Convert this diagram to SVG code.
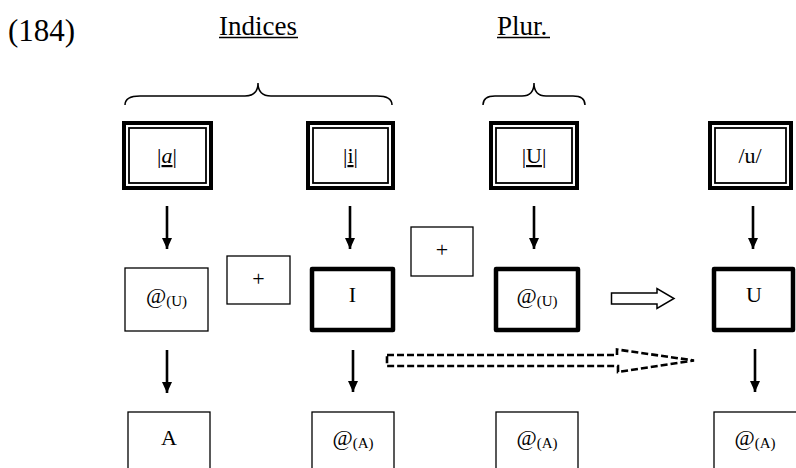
<svg xmlns="http://www.w3.org/2000/svg" width="796" height="468" viewBox="0 0 796 468">
<style>
text{font-family:"Liberation Serif","Times New Roman",serif;fill:#000}
.lbl{font-size:22px;text-anchor:middle}
.sub{font-size:15px}
.thin{fill:#fff;stroke:#000;stroke-width:1.3}
.thick{fill:#fff;stroke:#000;stroke-width:4.5;stroke-linejoin:round}
.dblo{fill:#fff;stroke:#000;stroke-width:4}
.dbli{fill:none;stroke:#000;stroke-width:1.8}
.shaft{stroke:#000;stroke-width:2.6;fill:none}
.brace{fill:none;stroke:#000;stroke-width:1.5}
</style>
<defs>
<marker id="ah" markerWidth="11" markerHeight="10" refX="11" refY="5" orient="auto" markerUnits="userSpaceOnUse" viewBox="0 0 11 10">
<path d="M0,0 L11,5 L0,10 Z" fill="#000"/>
</marker>
</defs>

<text x="8" y="41" style="font-size:31px">(184)</text>
<text x="219" y="35" style="font-size:27px">Indices</text>
<line x1="219" y1="37.5" x2="298" y2="37.5" stroke="#000" stroke-width="1.4"/>
<text x="497" y="35" style="font-size:27px">Plur.</text>
<line x1="497" y1="37.5" x2="550" y2="37.5" stroke="#000" stroke-width="1.4"/>

<path class="brace" d="M125,105 Q125,96 140,96 L245,96 Q258,96 258,83 Q258,96 271,96 L377,96 Q392,96 392,105"/>
<path class="brace" d="M483,105 Q483,96 495,96 L522,96 Q534,96 534,83 Q534,96 546,96 L573,96 Q585,96 585,105"/>

<g id="n-a">
<rect class="dblo" x="124" y="123" width="87" height="65"/>
<rect class="dbli" x="129" y="128" width="77" height="55"/>
<text class="lbl" x="167" y="163">|<tspan font-style="italic" text-decoration="underline">a</tspan>|</text>
</g>
<g id="n-i">
<rect class="dblo" x="308" y="123" width="85" height="65"/>
<rect class="dbli" x="313" y="128" width="75" height="55"/>
<text class="lbl" x="350.5" y="163">|<tspan text-decoration="underline">i</tspan>|</text>
</g>
<g id="n-U">
<rect class="dblo" x="491" y="123" width="86" height="65"/>
<rect class="dbli" x="496" y="128" width="76" height="55"/>
<text class="lbl" x="534" y="163">|<tspan text-decoration="underline">U</tspan>|</text>
</g>
<g id="n-u">
<rect class="dblo" x="710" y="123" width="81" height="65"/>
<rect class="dbli" x="715" y="128" width="71" height="55"/>
<text class="lbl" x="750" y="163">/u/</text>
</g>

<g id="n-atU1">
<rect class="thin" x="125" y="268" width="83" height="63"/>
<text class="lbl" x="166.5" y="303">@<tspan class="sub" dy="3">(U)</tspan></text>
</g>
<g id="n-plus1">
<rect class="thin" x="227" y="256" width="63" height="48"/>
<text class="lbl" x="258.5" y="286">+</text>
</g>
<g id="n-I">
<rect class="thick" x="312" y="269" width="81" height="61"/>
<text class="lbl" x="352.5" y="302">I</text>
</g>
<g id="n-plus2">
<rect class="thin" x="411" y="227" width="62" height="49"/>
<text class="lbl" x="442" y="257">+</text>
</g>
<g id="n-atU2">
<rect class="thick" x="496" y="269" width="82" height="61"/>
<text class="lbl" x="537" y="303">@<tspan class="sub" dy="3">(U)</tspan></text>
</g>
<g id="n-Ubig">
<rect class="thick" x="714" y="269" width="79" height="61"/>
<text class="lbl" x="754" y="302">U</text>
</g>

<g id="n-A">
<rect class="thin" x="128" y="412" width="82" height="70"/>
<text class="lbl" x="169" y="445">A</text>
</g>
<g id="n-atA1">
<rect class="thin" x="312" y="412" width="82" height="70"/>
<text class="lbl" x="353" y="445">@<tspan class="sub" dy="3">(A)</tspan></text>
</g>
<g id="n-atA2">
<rect class="thin" x="496" y="412" width="82" height="70"/>
<text class="lbl" x="537" y="445">@<tspan class="sub" dy="3">(A)</tspan></text>
</g>
<g id="n-atA3">
<rect class="thin" x="714" y="412" width="84" height="70"/>
<text class="lbl" x="755" y="445">@<tspan class="sub" dy="3">(A)</tspan></text>
</g>

<g id="connectors">
<line class="shaft" x1="167" y1="206" x2="167" y2="249" marker-end="url(#ah)"/>
<line class="shaft" x1="350" y1="206" x2="350" y2="249" marker-end="url(#ah)"/>
<line class="shaft" x1="534" y1="206" x2="534" y2="249" marker-end="url(#ah)"/>
<line class="shaft" x1="753" y1="206" x2="753" y2="249" marker-end="url(#ah)"/>
<line class="shaft" x1="167" y1="350" x2="167" y2="393" marker-end="url(#ah)"/>
<line class="shaft" x1="353" y1="350" x2="353" y2="392" marker-end="url(#ah)"/>
<line class="shaft" x1="755" y1="349" x2="755" y2="392" marker-end="url(#ah)"/>
<path d="M611.5,293 L657,293 L657,288.5 L674,298.5 L657,308.5 L657,304 L611.5,304 Z" fill="#fff" stroke="#000" stroke-width="1.5"/>
<path d="M387,355 L617,355 L617,349.5 L694,360.5 L618,372 L618,366 L387,366 Z" fill="none" stroke="#000" stroke-width="2.6" stroke-dasharray="7,3"/>
</g>
</svg>
